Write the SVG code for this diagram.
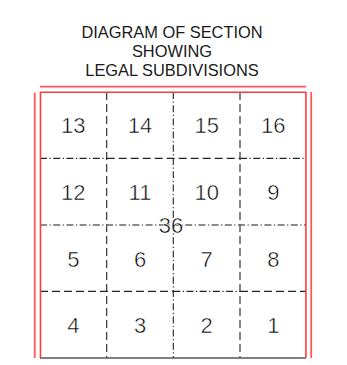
<svg xmlns="http://www.w3.org/2000/svg" width="347" height="365" viewBox="0 0 347 365">
<style>
.title{font-family:"Liberation Sans",Arial,sans-serif;font-size:16.4px;fill:#1a1a1a;text-anchor:middle}
.num{font-family:"Liberation Sans",Arial,sans-serif;font-size:22px;fill:#000;text-anchor:middle;stroke:#fff;stroke-width:0.5}
.red{stroke:#ff3a3a;stroke-width:1.6;fill:none}
.redo{stroke:#ff5a5a;stroke-width:1.8;fill:none}
.dash{stroke:#222;stroke-width:1.1;fill:none;stroke-dasharray:8 4}
.dd{stroke:#222;stroke-width:1.1;fill:none;stroke-dasharray:7 2.5 1.2 2.5}
.ddg{stroke:#666;stroke-width:1.3;fill:none;stroke-dasharray:7 2.5 1.2 2.5}
.base{stroke:#555;stroke-width:1.6;fill:none}
</style>
<g id="title">
<text class="title" x="172" y="38">DIAGRAM OF SECTION</text>
<text class="title" x="172" y="57">SHOWING</text>
<text class="title" x="172" y="76">LEGAL SUBDIVISIONS</text>
</g>
<g id="connectors">
<line class="redo" x1="40" y1="86.7" x2="306" y2="86.7"/>
<line class="redo" x1="34.7" y1="92.7" x2="34.7" y2="358"/>
<line class="redo" x1="311.2" y1="92" x2="311.2" y2="358"/>
<line class="dash" x1="106.7" y1="92" x2="106.7" y2="358"/>
<line class="dd" x1="173.3" y1="92" x2="173.3" y2="358"/>
<line class="dash" x1="240" y1="92" x2="240" y2="358"/>
<line class="dd" x1="40" y1="158.4" x2="106.7" y2="158.4"/>
<line class="dash" x1="106.7" y1="158.4" x2="240" y2="158.4"/>
<line class="dd" x1="240" y1="158.4" x2="306.2" y2="158.4"/>
<line class="ddg" x1="40" y1="225" x2="306.2" y2="225"/>
<line class="dash" x1="40" y1="291.4" x2="173.3" y2="291.4"/>
<line class="dd" x1="173.3" y1="291.4" x2="240" y2="291.4"/>
<line class="dash" x1="240" y1="291.4" x2="306.2" y2="291.4"/>
<line class="base" x1="40" y1="358" x2="306" y2="358"/>
<polyline class="red" points="40.5,358 40.5,92.2 305.9,92.2 305.9,358"/>
</g>
<g id="sec13"><text class="num" x="73.3" y="133.3">13</text></g>
<g id="sec14"><text class="num" x="140" y="133.3">14</text></g>
<g id="sec15"><text class="num" x="206.7" y="133.3">15</text></g>
<g id="sec16"><text class="num" x="273.3" y="133.3">16</text></g>
<g id="sec12"><text class="num" x="73.3" y="200">12</text></g>
<g id="sec11"><text class="num" x="140" y="200">11</text></g>
<g id="sec10"><text class="num" x="206.7" y="200">10</text></g>
<g id="sec9"><text class="num" x="273.3" y="200">9</text></g>
<g id="sec5"><text class="num" x="73.3" y="266.7">5</text></g>
<g id="sec6"><text class="num" x="140" y="266.7">6</text></g>
<g id="sec7"><text class="num" x="206.7" y="266.7">7</text></g>
<g id="sec8"><text class="num" x="273.3" y="266.7">8</text></g>
<g id="sec4"><text class="num" x="73.3" y="333.3">4</text></g>
<g id="sec3"><text class="num" x="140" y="333.3">3</text></g>
<g id="sec2"><text class="num" x="206.7" y="333.3">2</text></g>
<g id="sec1"><text class="num" x="273.3" y="333.3">1</text></g>
<g id="section"><text class="num" x="171" y="232.7">36</text></g>
</svg>
